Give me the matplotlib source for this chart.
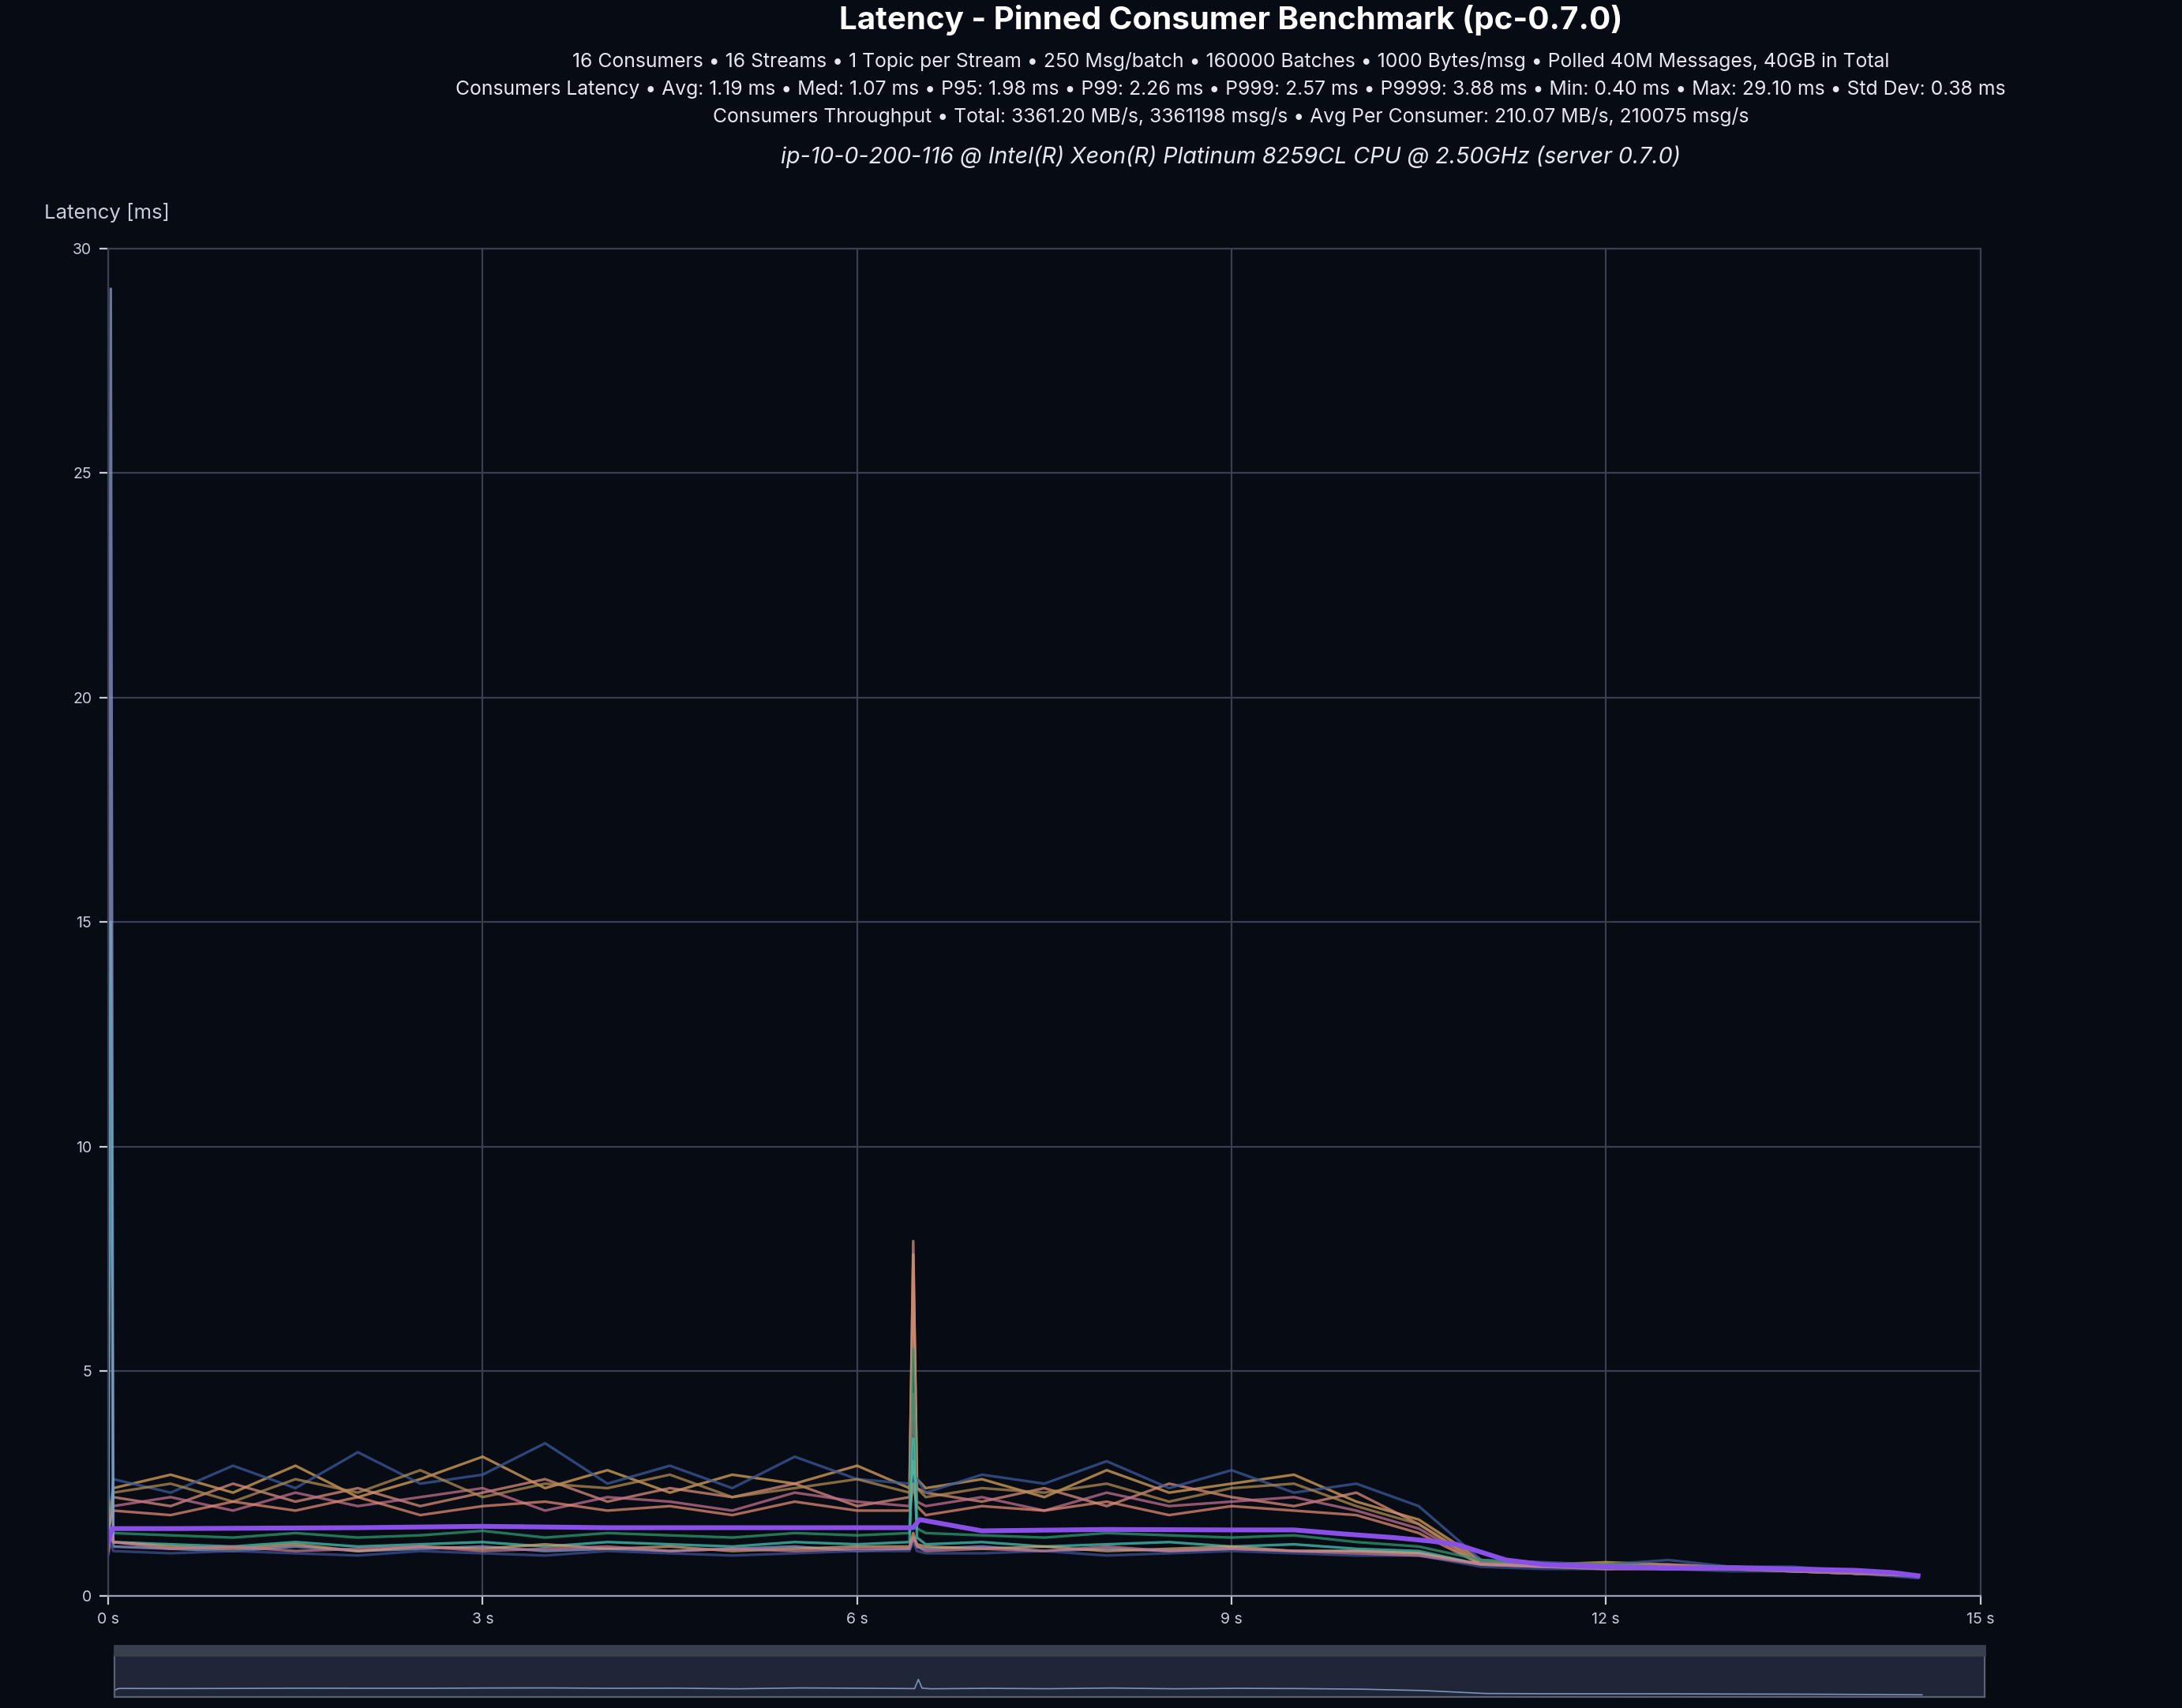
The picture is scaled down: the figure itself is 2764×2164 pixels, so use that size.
import matplotlib
matplotlib.use("Agg")
import matplotlib.pyplot as plt
plt.rcParams['font.family'] = ['Inter', 'DejaVu Sans']

T = [0, 0.02, 0.04, 0.5, 1.0, 1.5, 2.0, 2.5, 3.0, 3.5, 4.0, 4.5, 5.0, 5.5, 6.0,
     6.42, 6.45, 6.48, 6.55,
     7.0, 7.5, 8.0, 8.5, 9.0, 9.5, 10.0, 10.5, 11.0, 11.5, 12.0, 12.5, 13.0, 13.5, 14.0, 14.5]

upper = {
 "#d9a35a": [1.6, 2.0, 2.4, 2.7, 2.3, 2.9, 2.2, 2.6, 3.1, 2.4, 2.8, 2.3, 2.7, 2.5, 2.9,
             2.4, 7.6, 2.6, 2.4,
             2.6, 2.2, 2.8, 2.3, 2.5, 2.7, 2.1, 1.7, 0.8, 0.7, 0.75, 0.7, 0.65, 0.6, 0.55, 0.45],
 "#d98c7a": [1.5, 1.9, 2.2, 2.0, 2.5, 2.1, 2.4, 2.0, 2.3, 2.6, 2.1, 2.4, 2.2, 2.5, 2.0,
             2.2, 7.9, 2.4, 2.3,
             2.1, 2.4, 2.0, 2.5, 2.2, 2.0, 2.3, 1.6, 0.75, 0.65, 0.7, 0.65, 0.6, 0.6, 0.55, 0.45],
 "#c0708c": [1.4, 1.8, 2.0, 2.2, 1.9, 2.3, 2.0, 2.2, 2.4, 1.9, 2.2, 2.1, 1.9, 2.3, 2.1,
             2.0, 4.5, 2.1, 2.0,
             2.2, 1.9, 2.3, 2.0, 2.1, 2.2, 1.9, 1.5, 0.7, 0.7, 0.65, 0.7, 0.6, 0.55, 0.55, 0.45],
 "#3a5a9a": [1.5, 2.0, 2.6, 2.3, 2.9, 2.4, 3.2, 2.5, 2.7, 3.4, 2.5, 2.9, 2.4, 3.1, 2.6,
             2.5, 2.8, 2.6, 2.3,
             2.7, 2.5, 3.0, 2.4, 2.8, 2.3, 2.5, 2.0, 0.8, 0.75, 0.7, 0.8, 0.65, 0.65, 0.55, 0.4],
 "#b08a50": [1.5, 1.9, 2.3, 2.5, 2.1, 2.6, 2.3, 2.8, 2.2, 2.5, 2.4, 2.7, 2.2, 2.4, 2.6,
             2.3, 3.0, 2.4, 2.2,
             2.4, 2.3, 2.5, 2.1, 2.4, 2.5, 2.0, 1.6, 0.7, 0.7, 0.7, 0.65, 0.65, 0.6, 0.5, 0.45],
 "#e08a70": [1.4, 1.7, 1.9, 1.8, 2.1, 1.9, 2.2, 1.8, 2.0, 2.1, 1.9, 2.0, 1.8, 2.1, 1.9,
             1.9, 2.5, 2.0, 1.8,
             2.0, 1.9, 2.1, 1.8, 2.0, 1.9, 1.8, 1.4, 0.7, 0.65, 0.65, 0.65, 0.6, 0.6, 0.5, 0.45],
}
lower = {
 "#2e9a70": [1.1, 1.3, 1.4, 1.35, 1.3, 1.4, 1.3, 1.35, 1.45, 1.3, 1.4, 1.35, 1.3, 1.4, 1.35,
             1.4, 5.5, 1.5, 1.4,
             1.35, 1.3, 1.4, 1.35, 1.3, 1.35, 1.2, 1.1, 0.8, 0.7, 0.7, 0.65, 0.6, 0.6, 0.55, 0.45],
 "#45c4b4": [1.0, 15.0, 1.2, 1.15, 1.1, 1.2, 1.1, 1.15, 1.2, 1.1, 1.2, 1.15, 1.1, 1.2, 1.15,
             1.2, 3.5, 1.3, 1.15,
             1.2, 1.1, 1.15, 1.2, 1.1, 1.15, 1.05, 1.0, 0.7, 0.65, 0.65, 0.6, 0.6, 0.55, 0.5, 0.45],
 "#8a9ad0": [1.0, 29.1, 1.1, 1.05, 1.0, 1.1, 1.0, 1.05, 1.1, 1.0, 1.05, 1.0, 1.05, 1.1, 1.0,
             1.05, 1.3, 1.1, 1.05,
             1.1, 1.0, 1.05, 1.0, 1.05, 1.0, 1.0, 0.95, 0.7, 0.65, 0.6, 0.65, 0.6, 0.55, 0.5, 0.45],
 "#d0a070": [0.95, 1.5, 1.2, 1.1, 1.05, 1.15, 1.0, 1.1, 1.05, 1.15, 1.05, 1.1, 1.0, 1.05, 1.1,
             1.1, 1.4, 1.15, 1.1,
             1.05, 1.1, 1.0, 1.05, 1.1, 1.0, 1.0, 0.95, 0.7, 0.65, 0.65, 0.6, 0.6, 0.55, 0.5, 0.45],
 "#3c4e90": [0.9, 1.2, 1.0, 0.95, 1.0, 0.95, 0.9, 1.0, 0.95, 0.9, 1.0, 0.95, 0.9, 0.95, 1.0,
             1.0, 1.2, 1.0, 0.95,
             0.95, 1.0, 0.9, 0.95, 1.0, 0.95, 0.9, 0.9, 0.65, 0.6, 0.6, 0.6, 0.55, 0.55, 0.5, 0.4],
 "#c07a90": [1.0, 1.4, 1.2, 1.05, 1.1, 1.0, 1.05, 1.1, 1.0, 1.05, 1.1, 1.0, 1.05, 1.0, 1.05,
             1.05, 1.3, 1.1, 1.0,
             1.05, 1.0, 1.1, 1.0, 1.05, 1.0, 0.95, 0.9, 0.7, 0.65, 0.6, 0.6, 0.6, 0.55, 0.5, 0.45],
}
AVG_T = [0, 0.03, 0.5, 2.0, 3.0, 4.0, 5.0, 6.0, 6.45, 6.5, 6.6, 7.0, 8.0, 9.0, 9.5, 9.9,
         10.3, 10.6, 10.8, 11.2, 11.5, 12.0, 12.5, 13.0, 13.5, 14.0, 14.3, 14.5]
AVG = [1.2, 1.5, 1.5, 1.52, 1.55, 1.52, 1.52, 1.52, 1.52, 1.7, 1.65, 1.45, 1.48, 1.47, 1.47, 1.38,
       1.3, 1.22, 1.15, 0.8, 0.7, 0.65, 0.62, 0.63, 0.6, 0.57, 0.52, 0.45]

BG = "#070b14"
fig = plt.figure(figsize=(13.82, 10.82), dpi=200, facecolor=BG)
ax = fig.add_axes([0.0496, 0.0656, 0.858, 0.789], facecolor=BG)
for c, v in list(upper.items()) + list(lower.items()):
    ax.plot(T, v, color=c, lw=1.2, alpha=0.75)
ax.plot(AVG_T, AVG, color="#8a4fe6", lw=2.2)
ax.set_xlim(0, 15); ax.set_ylim(0, 30)
ax.set_xticks([0, 3, 6, 9, 12, 15]); ax.set_xticklabels(["0 s", "3 s", "6 s", "9 s", "12 s", "15 s"])
ax.set_yticks([0, 5, 10, 15, 20, 25, 30])
ax.grid(color="#3a3f4e", lw=0.8)
for s in ax.spines.values():
    s.set_color("#3a3f4e")
ax.spines["bottom"].set_color("#9aa0b0")
ax.tick_params(colors="#c8ccd6", labelsize=7, length=4)
ax.set_axisbelow(True)

fig.text(0.564, 0.988, "Latency - Pinned Consumer Benchmark (pc-0.7.0)", color="white",
         fontsize=14.5, fontweight="bold", ha="center", va="center")
subs = ["16 Consumers • 16 Streams • 1 Topic per Stream • 250 Msg/batch • 160000 Batches • 1000 Bytes/msg • Polled 40M Messages, 40GB in Total",
        "Consumers Latency • Avg: 1.19 ms • Med: 1.07 ms • P95: 1.98 ms • P99: 2.26 ms • P999: 2.57 ms • P9999: 3.88 ms • Min: 0.40 ms • Max: 29.10 ms • Std Dev: 0.38 ms",
        "Consumers Throughput • Total: 3361.20 MB/s, 3361198 msg/s • Avg Per Consumer: 210.07 MB/s, 210075 msg/s"]
for i, s in enumerate(subs):
    fig.text(0.564, 1 - (44 + 20 * i) / 1228, s, color="#e6e8ee", fontsize=8.9, ha="center", va="center")
fig.text(0.564, 1 - 113 / 1228, "ip-10-0-200-116 @ Intel(R) Xeon(R) Platinum 8259CL CPU @ 2.50GHz (server 0.7.0)",
         color="#e6e8ee", fontsize=10.3, style="italic", ha="center", va="center")
fig.text(32 / 1568, 1 - 153 / 1228, "Latency [ms]", color="#c8ccd6", fontsize=9.3, ha="left", va="center")

# overview slider
sl = fig.add_axes([82 / 1568, 8 / 1228, 1344 / 1568, 30 / 1228], facecolor="#1f2638")
allv = list(upper.values()) + list(lower.values())
mean_v = [sum(col) / len(col) for col in zip(*[v for v in allv if max(v) < 10])]
sl.plot(T, mean_v, color="#8090b8", lw=0.6)
sl.set_xlim(0, 15); sl.set_ylim(0, 9)
sl.set_xticks([]); sl.set_yticks([])
for s in sl.spines.values():
    s.set_color("#5a6070")
fig.patches.append(plt.Rectangle((82 / 1568, 38 / 1228), 1344 / 1568, 7 / 1228,
                   transform=fig.transFigure, color="#3a3f4e"))
fig.savefig("out.png", facecolor=BG)
